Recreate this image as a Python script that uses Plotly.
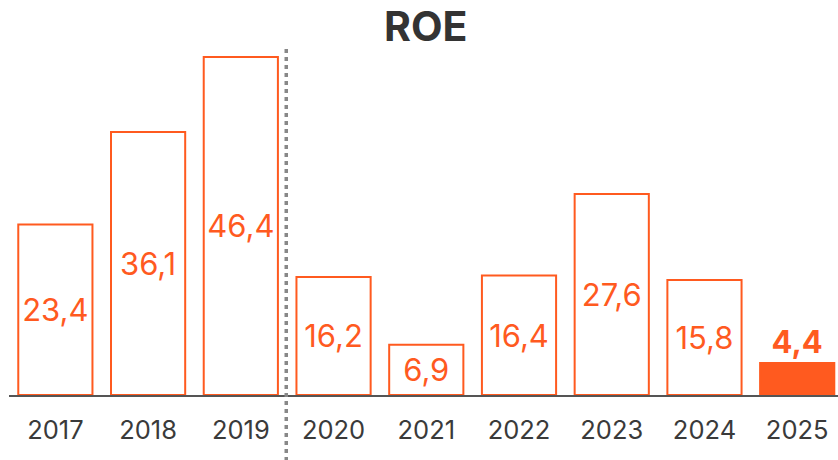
import plotly.graph_objects as go

years = ["2017", "2018", "2019", "2020", "2021", "2022", "2023", "2024", "2025"]
roe = [23.4, 36.1, 46.4, 16.2, 6.9, 16.4, 27.6, 15.8, 4.4]

ORANGE = "#FF5A1F"
labels = [f"{v:.1f}".replace(".", ",") for v in roe]
labels[-1] = "<b>" + labels[-1] + "</b>"
fills = ["white"] * (len(years) - 1) + [ORANGE]
positions = ["inside"] * (len(years) - 1) + ["outside"]

W, H = 838, 460

fig = go.Figure(go.Bar(
    x=years, y=roe,
    marker=dict(color=fills, line=dict(color=ORANGE, width=2)),
    text=labels, textposition=positions, insidetextanchor="middle",
    textfont=dict(family="Inter", size=31, color=ORANGE),
    outsidetextfont=dict(family="Inter", size=31, color=ORANGE),
    insidetextfont=dict(family="Inter", size=31, color=ORANGE),
    constraintext="none", cliponaxis=False,
))

fig.add_shape(type="line", xref="x", yref="paper", x0=2.49, x1=2.49, y0=-0.19, y1=1.0,
              line=dict(color="#888888", width=3.5, dash="4px,4px"), layer="above")

fig.update_layout(
    width=W, height=H,
    margin=dict(l=9, r=0, t=47, b=65),
    paper_bgcolor="white", plot_bgcolor="white",
    bargap=0.2, showlegend=False,
    title=dict(text="<b>ROE</b>", x=0.508, xanchor="center", y=1 - 27 / H, yanchor="middle",
               font=dict(family="Inter", size=41, color="#333333")),
    xaxis=dict(type="category", range=[-0.5, 8.44], showline=True, linecolor="#555555", linewidth=2,
               ticks="outside", ticklen=11, tickcolor="rgba(0,0,0,0)",
               tickfont=dict(family="Inter", size=25.5, color="#3a3a3a"), showgrid=False),
    yaxis=dict(range=[0, 47.77], visible=False, showgrid=False, zeroline=False),
)

fig.write_html("out.html", config={"displayModeBar": False},
               post_script="document.body.style.margin='0';document.body.style.overflow='hidden';")
